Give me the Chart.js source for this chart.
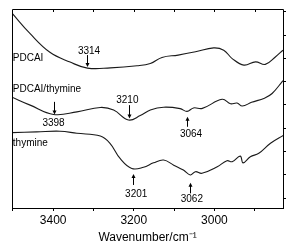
<!DOCTYPE html>
<html>
<head>
<meta charset="utf-8">
<script src="https://cdn.jsdelivr.net/npm/chart.js@4/dist/chart.umd.min.js"></script>
<style>
html,body{margin:0;padding:0;background:#fff;}
#wrap{width:291px;height:247px;position:relative;}
</style>
</head>
<body>
<div id="wrap"><canvas id="c" width="291" height="247"></canvas></div>
<script>
// ---- data (wavenumber in cm^-1, absorbance in arbitrary offset units) ----
const pdcaiWn  = [3502,3457,3408,3358,3315,3258,3192,3159,3130,3090,3047,3002,2977,2956,2927,2898,2874,2849,2830];
const pdcaiAbs = [7.92,7.04,6.24,5.82,5.56,5.57,5.66,5.76,6.02,6.12,6.26,6.43,6.33,5.97,5.69,5.83,5.72,6.04,6.33];

const blendWn  = [3502,3457,3399,3341,3283,3250,3213,3184,3159,3126,3085,3068,3052,3030,2981,2960,2944,2931,2908,2876,2857,2830];
const blendAbs = [4.31,3.97,3.57,3.68,3.87,3.76,3.33,3.52,3.76,3.88,3.82,3.70,3.85,3.83,4.22,4.03,4.06,3.93,4.09,4.27,4.47,5.02];

const thyWn  = [3502,3441,3383,3341,3283,3259,3234,3205,3176,3151,3126,3101,3077,3060,3047,3031,2993,2969,2956,2936,2929,2911,2890,2861,2828];
const thyAbs = [2.79,2.82,2.85,2.76,2.64,2.33,1.68,1.25,1.30,1.49,1.61,1.39,1.18,0.97,1.11,1.04,1.32,1.58,1.54,1.78,1.49,1.75,1.90,2.33,2.68];

const xTicks = [3500,3400,3300,3200,3100,3000,2900];
const xTickLabels = {3400:'3400',3200:'3200',3000:'3000'};
const yTicks = [0,1,2,3,4,5,6,7,8];

const seriesNames = ['PDCAI','PDCAI/thymine','thymine'];
// series name labels: [text, wavenumber, value]
const nameLabels = [
  ['PDCAI', 3500, 6.0],
  ['PDCAI/thymine', 3500, 4.64],
  ['thymine', 3500, 2.32]
];
// peak labels: [text, textWn, textVal, arrowWn, arrowFromVal, arrowToVal]
const peakLabels = [
  ['3314', 3311, 6.29, 3315, 6.12, 5.61],
  ['3210', 3216, 4.18, 3212, 3.97, 3.40],
  ['3398', 3399, 3.17, 3399, 4.11, 3.57],
  ['3064', 3058, 2.73, 3068, 3.04, 3.47],
  ['3201', 3194, 0.14, 3203, 0.54, 1.01],
  ['3062', 3056, -0.06, 3060, 0.18, 0.64]
];

function pts(xs, ys){ return xs.map((x,i)=>({x:x, y:ys[i]})); }

const FONT = "'Liberation Sans', Arial, sans-serif";

const decor = {
  id:'decor',
  afterDraw(chart){
    const {ctx, chartArea:a, scales:{x,y}} = chart;
    ctx.save();
    ctx.strokeStyle = '#000';
    ctx.lineWidth = 1;
    // box (left, top, right)
    ctx.beginPath();
    ctx.moveTo(Math.round(a.left)+0.5, Math.round(a.bottom));
    ctx.lineTo(Math.round(a.left)+0.5, Math.round(a.top)+0.5);
    ctx.lineTo(Math.round(a.right)+0.5, Math.round(a.top)+0.5);
    ctx.lineTo(Math.round(a.right)+0.5, Math.round(a.bottom));
    ctx.stroke();
    // top ticks (inward)
    ctx.beginPath();
    xTicks.forEach(t=>{
      const px = Math.round(x.getPixelForValue(t))+0.5;
      if (px < a.left+2 || px > a.right-2) return;
      ctx.moveTo(px, a.top); ctx.lineTo(px, a.top+3);
    });
    // right ticks (outward)
    yTicks.forEach(t=>{
      const py = Math.round(y.getPixelForValue(t))+0.5;
      ctx.moveTo(a.right, py); ctx.lineTo(a.right+3, py);
    });
    ctx.stroke();

    ctx.fillStyle = '#000';
    ctx.textBaseline = 'middle';
    ctx.font = '10px ' + FONT;
    ctx.textAlign = 'left';
    nameLabels.forEach(([t,wn,v])=>{
      ctx.fillText(t, x.getPixelForValue(wn), y.getPixelForValue(v));
    });
    ctx.textAlign = 'center';
    peakLabels.forEach(([t,tw,tv,aw,af,at])=>{
      ctx.fillText(t, x.getPixelForValue(tw), y.getPixelForValue(tv));
      const ax = Math.round(x.getPixelForValue(aw))+0.5;
      const y0 = y.getPixelForValue(af), y1 = y.getPixelForValue(at);
      const dir = y1 > y0 ? 1 : -1;
      ctx.beginPath();
      ctx.moveTo(ax, y0); ctx.lineTo(ax, y1 - dir*3);
      ctx.stroke();
      ctx.beginPath();
      ctx.moveTo(ax, y1);
      ctx.lineTo(ax-2, y1 - dir*4);
      ctx.lineTo(ax+2, y1 - dir*4);
      ctx.closePath();
      ctx.fill();
    });
    ctx.restore();
  }
};

const lineStyle = {borderColor:'#1a1a1a', borderWidth:1.1, pointRadius:0, tension:0.4, fill:false, showLine:true};

new Chart(document.getElementById('c'), {
  type:'scatter',
  data:{
    datasets:[
      Object.assign({label:seriesNames[0], data:pts(pdcaiWn,pdcaiAbs)}, lineStyle),
      Object.assign({label:seriesNames[1], data:pts(blendWn,blendAbs)}, lineStyle),
      Object.assign({label:seriesNames[2], data:pts(thyWn,thyAbs)}, lineStyle)
    ]
  },
  options:{
    responsive:false,
    animation:false,
    devicePixelRatio:1,
    layout:{padding:{left:12, right:8, top:9, bottom:0}},
    plugins:{legend:{display:false}, tooltip:{enabled:false}},
    scales:{
      x:{
        type:'linear', reverse:true, min:2830, max:3502,
        afterBuildTicks(s){ s.ticks = xTicks.map(v=>({value:v})); },
        afterFit(s){ s.height = 39; },
        grid:{display:true, drawOnChartArea:false, drawTicks:true, tickLength:3, color:'#000'},
        border:{display:true, color:'#000', width:1},
        ticks:{autoSkip:false, maxRotation:0, padding:2, color:'#000',
               font:{family:FONT, size:12},
               callback:(v)=> xTickLabels[v] || ''},
        title:{display:true, text:'Wavenumber/cm\u207B\u00B9', color:'#000',
               font:{family:FONT, size:12}, padding:{top:0, bottom:2}}
      },
      y:{display:false, min:-0.45, max:8.1}
    }
  },
  plugins:[decor]
});
</script>
</body>
</html>
